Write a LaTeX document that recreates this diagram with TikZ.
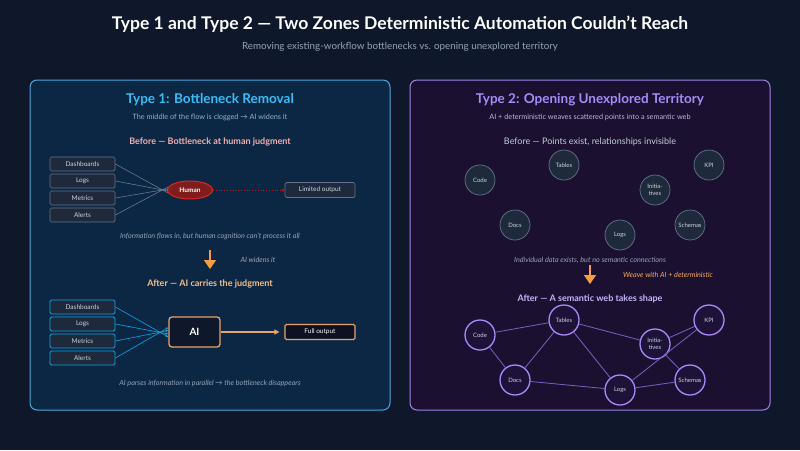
\documentclass[tikz,border=0pt]{standalone}
\usepackage{fontspec}
\setmainfont{Lato}
\usetikzlibrary{arrows.meta,shapes.geometric}
\definecolor{bg}{HTML}{0F172A}
\definecolor{lfill}{HTML}{0C2744}
\definecolor{lborder}{HTML}{4AA8E0}
\definecolor{rfill}{HTML}{1C1030}
\definecolor{rborder}{HTML}{A083E8}
\definecolor{boxfill}{HTML}{1E293B}
\definecolor{boxline}{HTML}{64748B}
\definecolor{capgray}{HTML}{94A3B8}
\definecolor{lblue}{HTML}{38BDF8}
\definecolor{lsub}{HTML}{8FB3D0}
\definecolor{pink}{HTML}{F3B0B0}
\definecolor{hred}{HTML}{7F1D1D}
\definecolor{hborder}{HTML}{DC2626}
\definecolor{orng}{HTML}{F59E42}
\definecolor{peach}{HTML}{F7C08A}
\definecolor{aiborder}{HTML}{E8A36A}
\definecolor{cyanline}{HTML}{0EA5E9}
\definecolor{purp}{HTML}{A78BFA}
\definecolor{psub}{HTML}{C0B4DC}
\definecolor{lav}{HTML}{C4B5FD}
\definecolor{pedge}{HTML}{7D5FC4}
\definecolor{pcirc}{HTML}{1E1238}
\definecolor{txt}{HTML}{CBD5E1}
\tikzset{
  srcbox/.style={draw=boxline, fill=boxfill, rounded corners=1.5pt, line width=0.7pt, minimum width=65pt, minimum height=14pt, inner sep=0pt, text=txt, font=\fontsize{6.5}{7}\selectfont},
  srcboxb/.style={srcbox, draw=cyanline, line width=0.9pt},
  feed/.style={draw=boxline!90!white, line width=0.5pt},
  feedb/.style={draw=cyanline, line width=0.6pt, -{Stealth[length=3pt,width=2.5pt]}},
  dotc/.style={circle, draw=boxline, fill=boxfill, line width=0.7pt, minimum size=30pt, inner sep=0pt, text=txt, font=\fontsize{6}{6.5}\selectfont, align=center},
  webc/.style={circle, draw=purp, fill=pcirc, line width=1.3pt, minimum size=30pt, inner sep=0pt, text=txt, font=\fontsize{6}{6.5}\selectfont, align=center},
  webedge/.style={draw=pedge, line width=0.8pt},
  captxt/.style={text=capgray, font=\fontsize{7.2}{8}\selectfont\itshape},
}
\begin{document}
\begin{tikzpicture}[x=1pt,y=-1pt]
\fill[bg] (0,0) rectangle (800,450);
\useasboundingbox (0,0) rectangle (800,450);
% title
\node[text=white, font=\fontsize{17.5}{20}\selectfont\bfseries] (title) at (400,24) {Type 1 and Type 2 — Two Zones Deterministic Automation Couldn't Reach};
\node[text=capgray, font=\fontsize{9.8}{11}\selectfont] (subtitle) at (400,47) {Removing existing-workflow bottlenecks vs. opening unexplored territory};
% panels
\draw[draw=lborder, fill=lfill, line width=1pt, rounded corners=7pt] (30,80) rectangle (390,410);
\draw[draw=rborder, fill=rfill, line width=1pt, rounded corners=7pt] (410,80) rectangle (770,410);
% LEFT
\node[text=lblue, font=\fontsize{13.5}{16}\selectfont\bfseries] (lt) at (210,100) {Type 1: Bottleneck Removal};
\node[text=lsub, font=\fontsize{7.3}{8}\selectfont] (ls) at (210,117) {The middle of the flow is clogged → AI widens it};
\node[text=pink, font=\fontsize{9}{10}\selectfont\bfseries] (lb) at (210,142) {Before — Bottleneck at human judgment};
\node[srcbox] (d1) at (82.5,164) {Dashboards};
\node[srcbox] (g1) at (82.5,181) {Logs};
\node[srcbox] (m1) at (82.5,198) {Metrics};
\node[srcbox] (a1) at (82.5,215) {Alerts};
\node[ellipse, draw=hborder, fill=hred, line width=1pt, minimum width=45pt, minimum height=18pt, inner sep=0pt, text=white, font=\fontsize{6.5}{7}\selectfont\bfseries] (hum) at (190,190) {Human};
\coordinate (hin) at (168,190);
\foreach \s/\dy in {d1/-3, g1/-1, m1/1, a1/3} {
  \draw[feed] (\s.east) -- ([yshift=\dy pt]hin);
}
\node[srcbox, minimum width=70pt, minimum height=15pt] (lim) at (320,190) {Limited output};
\draw[draw=hborder!85!black, line width=0.8pt, dotted, -{Stealth[length=3pt,width=3pt]}] (hum.east) -- (lim.west);
\node[captxt] (lc1) at (210,236) {Information flows in, but human cognition can't process it all};
% arrow
\coordinate (la0) at (210,250);
\coordinate (la1) at (210,269);
\draw[draw=orng, line width=1.6pt, -{Triangle[length=9pt,width=12pt]}] (la0) -- (la1);
\node[captxt, text=capgray!85!pink] (law) at (258,260) {AI widens it};
\node[text=peach, font=\fontsize{9}{10}\selectfont\bfseries] (la) at (210,284) {After — AI carries the judgment};
\node[srcboxb] (d2) at (82.5,307) {Dashboards};
\node[srcboxb] (g2) at (82.5,324) {Logs};
\node[srcboxb] (m2) at (82.5,341) {Metrics};
\node[srcboxb] (a2) at (82.5,358) {Alerts};
\node[draw=aiborder, fill=bg, line width=1.3pt, rounded corners=3pt, minimum width=51pt, minimum height=30pt, inner sep=0pt, text=white, font=\fontsize{10}{11}\selectfont\bfseries] (ai) at (194.5,332) {AI};
\foreach \s/\dy in {d2/-5, g2/-2, m2/1.5, a2/4.5} {
  \draw[feedb] (\s.east) -- ([yshift=\dy pt]ai.west);
}
\node[draw=aiborder, fill=bg!80!black, line width=1.1pt, rounded corners=1.5pt, minimum width=70pt, minimum height=15pt, inner sep=0pt, text=white!90!txt, font=\fontsize{6.5}{7}\selectfont] (full) at (320,332) {Full output};
\draw[draw=aiborder, line width=1.2pt, -{Triangle[length=5pt,width=5pt]}] (ai.east) -- ([xshift=-5pt]full.west);
\node[captxt] (lc2) at (210,383) {AI parses information in parallel → the bottleneck disappears};
% RIGHT
\node[text=purp, font=\fontsize{13.5}{16}\selectfont\bfseries] (rt) at (590,100) {Type 2: Opening Unexplored Territory};
\node[text=psub, font=\fontsize{7.3}{8}\selectfont] (rs) at (590,117) {AI + deterministic weaves scattered points into a semantic web};
\node[text=txt!85!capgray, font=\fontsize{9}{10}\selectfont] (rb) at (590,142) {Before — Points exist, relationships invisible};
\node[dotc] (c1) at (480,180) {Code};
\node[dotc] (t1) at (564,165) {Tables};
\node[dotc] (k1) at (709,165) {KPI};
\node[dotc] (i1) at (655,190) {Initia-\\tives};
\node[dotc] (o1) at (515,225) {Docs};
\node[dotc] (l1) at (620,235) {Logs};
\node[dotc] (s1) at (690,225) {Schemas};
\node[captxt] (rc1) at (590,260) {Individual data exists, but no semantic connections};
\coordinate (ra0) at (590,265);
\coordinate (ra1) at (590,284);
\draw[draw=orng, line width=1.6pt, -{Triangle[length=9pt,width=12pt]}] (ra0) -- (ra1);
\node[captxt, text=orng!85!white] (rw) at (668,275) {Weave with AI + deterministic};
\node[text=lav, font=\fontsize{9}{10}\selectfont\bfseries] (ra) at (590,299) {After — A semantic web takes shape};
\node[webc] (c2) at (480,335) {Code};
\node[webc] (t2) at (564,320) {Tables};
\node[webc] (k2) at (709,320) {KPI};
\node[webc] (i2) at (655,344) {Initia-\\tives};
\node[webc] (o2) at (515,380) {Docs};
\node[webc] (l2) at (620,390) {Logs};
\node[webc] (s2) at (690,380) {Schemas};
\draw[webedge] (c2) -- (t2);
\draw[webedge] (c2) -- (o2);
\draw[webedge] (t2) -- (o2);
\draw[webedge] (t2) -- (l2);
\draw[webedge] (t2) -- (i2);
\draw[webedge] (i2) -- (k2);
\draw[webedge] (i2) -- (s2);
\draw[webedge] (o2) -- (l2);
\draw[webedge] (l2) -- (s2);
\draw[webedge] (l2) -- (k2);
\end{tikzpicture}
\end{document}
